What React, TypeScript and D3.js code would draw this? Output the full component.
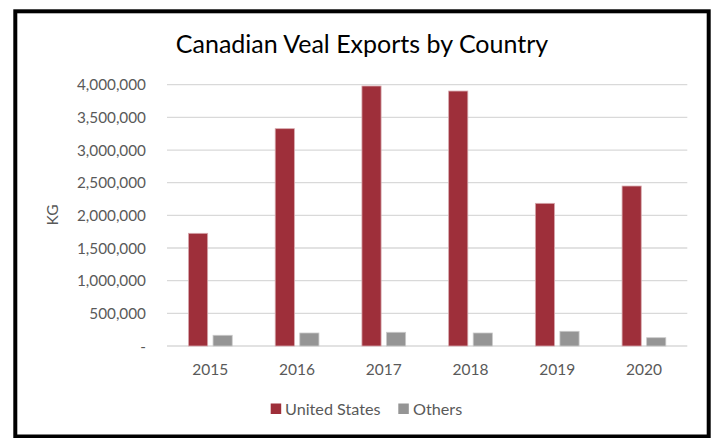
import React from "react";
import * as d3 from "d3";

const years = ["2015", "2016", "2017", "2018", "2019", "2020"];
const seriesNames = ["United States", "Others"];
const unitedStates = [1725000, 3327000, 3980000, 3903000, 2184000, 2449000];
const others = [164000, 199000, 210000, 199000, 225000, 127000];
const yTicks = [0, 500000, 1000000, 1500000, 2000000, 2500000, 3000000, 3500000, 4000000];
const colors = ["#9E2F3A", "#959595"];
const strokes = ["#D7A9AE", "#C9C9C9"];

const W = 717;
const H = 438;
const FONT = "Lato, 'Open Sans', sans-serif";

export default function App() {
  const x0 = d3.scaleBand<string>().domain(years).range([167, 687.3]).paddingInner(0).paddingOuter(0);
  const bw = x0.bandwidth();
  const x1 = d3.scaleBand<string>().domain(seriesNames).range([21.5, bw - 21.5]).paddingInner(0.22).paddingOuter(0);
  const y = d3.scaleLinear().domain([0, 4000000]).range([346, 84.7]);
  const fmt = (v: number) => (v === 0 ? "-" : d3.format(",")(v));
  const data = [unitedStates, others];

  return (
    <div style={{ position: "fixed", left: 0, top: 0, width: W, height: H, background: "#fff" }}>
      <svg width={W} height={H} style={{ display: "block" }}>
        <rect x={0} y={0} width={W} height={H} fill="#fff" />
        {yTicks.map((t) => (
          <line key={"g" + t} x1={167} x2={687.3} y1={y(t)} y2={y(t)} stroke="#D9D9D9" strokeWidth={1.3} />
        ))}
        {yTicks.map((t) => (
          <text
            key={"t" + t}
            x={146}
            y={y(t)}
            dy="0.36em"
            textAnchor="end"
            fontFamily={FONT}
            fontSize={15.3}
            fill="#595959"
          >
            {fmt(t)}
          </text>
        ))}
        {years.map((yr, i) => (
          <g key={yr} transform={`translate(${x0(yr)},0)`}>
            {seriesNames.map((s, j) => (
              <rect
                key={s}
                x={x1(s)}
                y={y(data[j][i])}
                width={x1.bandwidth()}
                height={y(0) - y(data[j][i])}
                fill={colors[j]}
                stroke={strokes[j]}
                strokeWidth={0.8}
              />
            ))}
          </g>
        ))}
        {years.map((yr) => (
          <text
            key={"x" + yr}
            x={(x0(yr) as number) + bw / 2}
            y={375}
            textAnchor="middle"
            fontFamily={FONT}
            fontSize={15.5}
            fill="#595959"
          >
            {yr}
          </text>
        ))}
        <text
          transform={`translate(58,215) rotate(-90)`}
          textAnchor="middle"
          fontFamily={FONT}
          fontSize={15.5}
          fill="#595959"
        >
          KG
        </text>
        <text x={362} y={53} textAnchor="middle" fontFamily={FONT} fontSize={25} fill="#000">
          Canadian Veal Exports by Country
        </text>
        <rect x={270.7} y={403.5} width={10.5} height={10.5} fill={colors[0]} />
        <text x={285} y={414.5} fontFamily={FONT} fontSize={16.2} fill="#595959">
          {seriesNames[0]}
        </text>
        <rect x={398.3} y={403.5} width={10.5} height={10.5} fill={colors[1]} />
        <text x={413} y={414.5} fontFamily={FONT} fontSize={16.2} fill="#595959">
          {seriesNames[1]}
        </text>
        <rect x={15.3} y={11.3} width={693.4} height={425.2} fill="none" stroke="#000" strokeWidth={4} />
      </svg>
    </div>
  );
}
